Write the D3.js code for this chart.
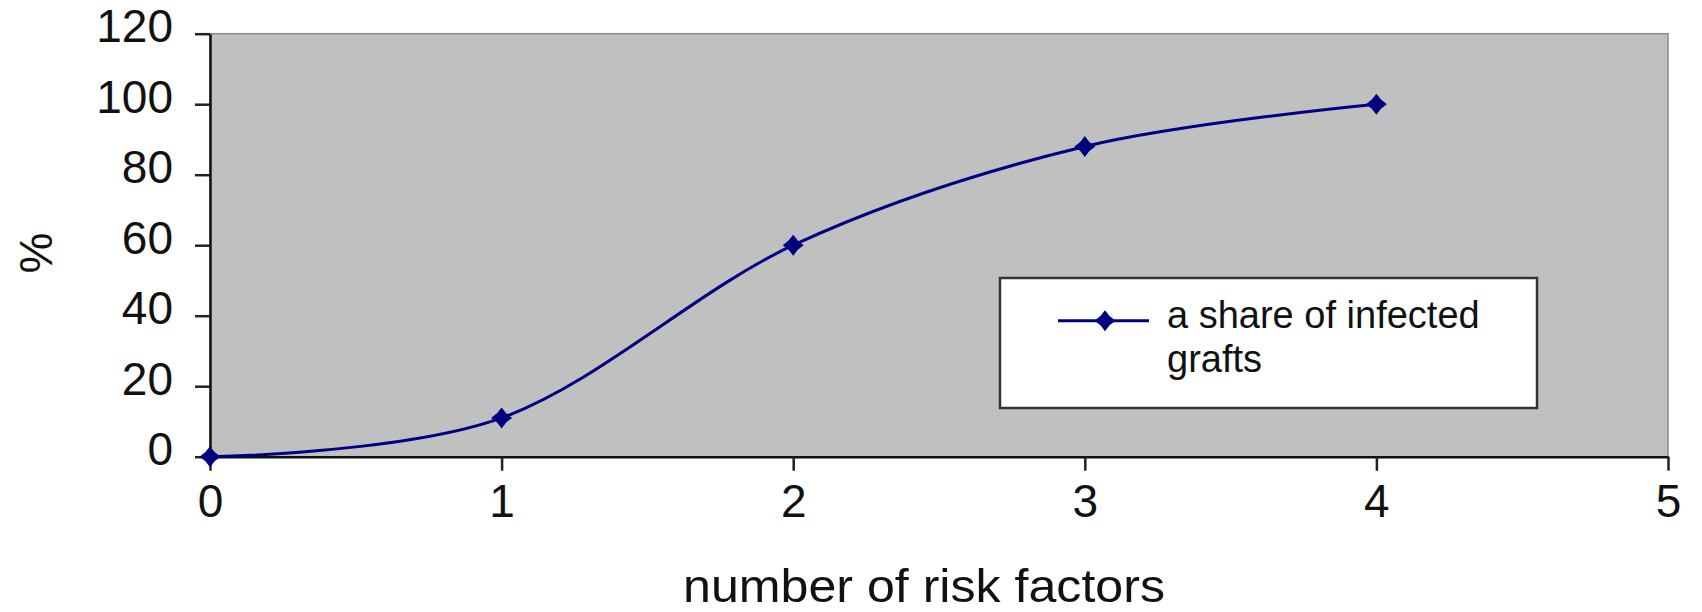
<!DOCTYPE html>
<html>
<head>
<meta charset="utf-8">
<script src="https://cdn.jsdelivr.net/npm/d3@7"></script>
<style>
  html, body { margin: 0; padding: 0; background: #fff; }
  svg { display: block; font-family: "Liberation Sans", Arial, sans-serif; }
</style>
</head>
<body>
<div id="canvas"></div>
<script>
"use strict";

// Data
let riskFactors = [0, 1, 2, 3, 4];
let infectedShare = [0, 11, 60, 88, 100];
let xTicks = [0, 1, 2, 3, 4, 5];
let yTicks = [0, 20, 40, 60, 80, 100, 120];
let seriesName = ["a share of infected", "grafts"];

// Canvas
let svgWidth = 1702;
let svgHeight = 612;
let plot = { left: 210, right: 1668, top: 33.7, bottom: 456.7 };

let svg = d3.select("#canvas")
  .append("svg")
  .attr("width", svgWidth)
  .attr("height", svgHeight);

svg.append("rect")
  .attr("width", svgWidth).attr("height", svgHeight)
  .attr("fill", "#fff");

// Scales
let xScale = d3.scaleLinear().domain([0, 5]).range([plot.left, plot.right]);
let yScale = d3.scaleLinear().domain([0, 120]).range([plot.bottom, plot.top]);

// Plot area (grey) with thin grey frame on top/right
svg.append("rect")
  .attr("x", plot.left).attr("y", plot.top)
  .attr("width", plot.right - plot.left)
  .attr("height", plot.bottom - plot.top)
  .attr("fill", "#c0c0c0")
  .attr("stroke", "#8a8a8a")
  .attr("stroke-width", 1.5);

// Axes
let xAxis = svg.append("g")
  .attr("transform", "translate(0," + plot.bottom + ")")
  .call(d3.axisBottom(xScale).tickValues(xTicks).tickSize(14).tickSizeOuter(0).tickFormat(d3.format("d")));
xAxis.selectAll("text")
  .attr("y", 60).attr("dy", null)
  .style("font-size", "46px");

let yAxis = svg.append("g")
  .attr("transform", "translate(" + plot.left + ",0)")
  .call(d3.axisLeft(yScale).tickValues(yTicks).tickSize(15).tickSizeOuter(0).tickFormat(d3.format("d")));
yAxis.selectAll("text")
  .attr("x", -37).attr("y", 8).attr("dy", null)
  .style("font-size", "46px");

[xAxis, yAxis].forEach(function(ax) {
  ax.attr("font-family", null).attr("font-size", null);
  ax.select(".domain").attr("stroke", "#111").attr("stroke-width", 2.5);
  ax.selectAll(".tick line").attr("stroke", "#222").attr("stroke-width", 2.5);
  ax.selectAll("text").attr("fill", "#111");
});

// Smoothed line
let points = riskFactors.map(function(d, i) { return [d, infectedShare[i]]; });
let line = d3.line()
  .x(function(d) { return xScale(d[0]); })
  .y(function(d) { return yScale(d[1]); })
  .curve(d3.curveCardinal.tension(0));

let navy = "#000080";
svg.append("path")
  .datum(points)
  .attr("d", line)
  .attr("fill", "none")
  .attr("stroke", navy)
  .attr("stroke-width", 3);

// diamond-ish star marker
function markerPath(r, ri) {
  return "M0," + (-r) + "L" + ri + "," + (-ri) + "L" + r + ",0L" + ri + "," + ri +
    "L0," + r + "L" + (-ri) + "," + ri + "L" + (-r) + ",0L" + (-ri) + "," + (-ri) + "Z";
}

svg.selectAll(".marker")
  .data(points)
  .enter()
  .append("path")
  .attr("class", "marker")
  .attr("transform", function(d) { return "translate(" + xScale(d[0]) + "," + yScale(d[1]) + ")"; })
  .attr("d", markerPath(10.5, 4.6))
  .attr("fill", navy);

// Legend
let legend = svg.append("g");
legend.append("rect")
  .attr("x", 1000).attr("y", 278)
  .attr("width", 537).attr("height", 130)
  .attr("fill", "#fff")
  .attr("stroke", "#333")
  .attr("stroke-width", 2.5);
legend.append("line")
  .attr("x1", 1058).attr("x2", 1149)
  .attr("y1", 320.7).attr("y2", 320.7)
  .attr("stroke", navy).attr("stroke-width", 3);
legend.append("path")
  .attr("transform", "translate(1105,320.7)")
  .attr("d", markerPath(10.5, 4.6))
  .attr("fill", navy);
legend.selectAll("text.leg")
  .data(seriesName)
  .enter()
  .append("text")
  .attr("class", "leg")
  .attr("x", 1167)
  .attr("y", function(d, i) { return 328.3 + i * 43.4; })
  .attr("fill", "#111")
  .style("font-size", "38px")
  .text(function(d) { return d; });

// Axis titles
svg.append("text")
  .attr("x", 683)
  .attr("y", 602)
  .attr("fill", "#111")
  .attr("textLength", 482)
  .attr("lengthAdjust", "spacingAndGlyphs")
  .style("font-size", "47px")
  .text("number of risk factors");

svg.append("text")
  .attr("transform", "translate(52,253) rotate(-90)")
  .attr("text-anchor", "middle")
  .attr("fill", "#111")
  .style("font-size", "46px")
  .text("%");
</script>
</body>
</html>
